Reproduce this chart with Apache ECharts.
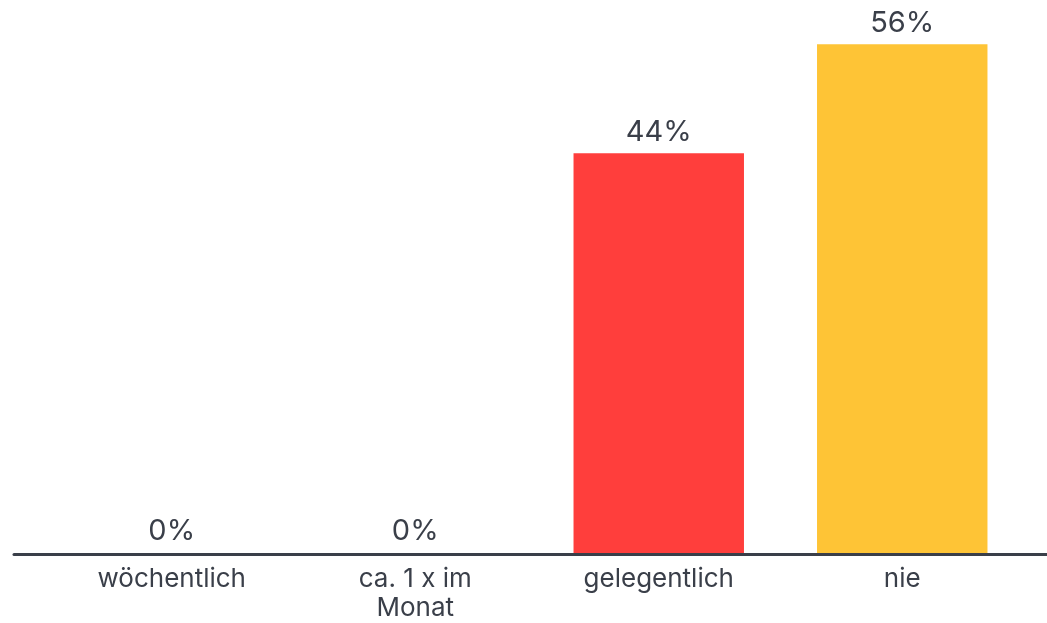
<!DOCTYPE html>
<html>
<head>
<meta charset="utf-8">
<script src="https://cdn.jsdelivr.net/npm/echarts@6/dist/echarts.min.js"></script>
<style>
  html, body { margin: 0; padding: 0; background: #ffffff; }
  #chart { width: 1047px; height: 623px; }
</style>
</head>
<body>
<div id="chart"></div>
<script>
// Häufigkeit – Anteile der Antworten in Prozent
const categories = ['wöchentlich', 'ca. 1 x im\nMonat', 'gelegentlich', 'nie'];
const shares = [0, 0, 44, 56];
const barColors = ['#ff3e3c', '#ff3e3c', '#ff3e3c', '#fec436'];

const textColor = '#3a3f49';
const fontFamily = 'Inter, "Noto Sans", sans-serif';

const chart = echarts.init(document.getElementById('chart'), null, { renderer: 'canvas' });

chart.setOption({
  backgroundColor: '#ffffff',
  animation: false,
  grid: [
    { left: 50, right: 23, top: 8, bottom: 69 },
    // full-width baseline under the bars
    { left: 14, right: 0, top: 8, bottom: 69 }
  ],
  xAxis: [
    {
      type: 'category',
      gridIndex: 0,
      data: categories,
      axisLine: { show: false },
      axisTick: { show: false },
      axisLabel: {
        color: textColor,
        fontFamily: fontFamily,
        fontSize: 26,
        lineHeight: 29,
        margin: 12,
        interval: 0
      }
    },
    {
      type: 'value',
      gridIndex: 1,
      min: 0,
      max: 1,
      axisLine: { show: true, onZero: false, lineStyle: { color: '#3a3f49', width: 3 } },
      axisTick: { show: false },
      axisLabel: { show: false },
      splitLine: { show: false }
    }
  ],
  yAxis: [
    { type: 'value', gridIndex: 0, min: 0, max: 60, show: false },
    { type: 'value', gridIndex: 1, min: 0, max: 1, show: false }
  ],
  series: [
    {
      type: 'bar',
      xAxisIndex: 0,
      yAxisIndex: 0,
      barCategoryGap: '30%',
      data: shares.map((v, i) => ({ value: v, itemStyle: { color: barColors[i] } })),
      label: {
        show: true,
        position: 'top',
        distance: 7,
        color: textColor,
        fontFamily: fontFamily,
        fontSize: 29,
        formatter: p => p.value + '%'
      }
    }
  ]
});
</script>
</body>
</html>
